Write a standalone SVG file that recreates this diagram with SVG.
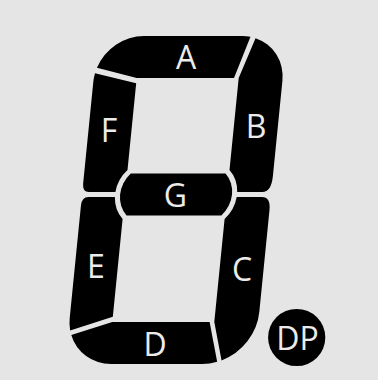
<svg xmlns="http://www.w3.org/2000/svg" width="378" height="380" viewBox="0 0 378 380">
  <style>
    .seg { fill: #000000; }
    .lbl { fill: #ebebeb; font-family: "Open Sans", "DejaVu Sans", sans-serif; font-size: 32px; text-anchor: middle; }
  </style>
  <rect x="0" y="0" width="378" height="380" fill="#e5e5e5"/>
  <g id="display">
    <g id="seg-a">
      <path class="seg" transform="matrix(1 0 -0.1 1 19.5 0)" d="M84.25,67.8 A46,46 0 0 1 128,36 L226,36 A45,45 0 0 1 234.66,36.8 L222.3,78 L125,78 Z"/>
      <text class="lbl" x="186" y="68.5">A</text>
    </g>
    <g id="seg-b">
      <path class="seg" transform="matrix(1 0 -0.1 1 19.5 0)" d="M239.84,38.2 A45,45 0 0 1 271,81 L271,176 Q271,192 262,192 L236.91,192 A35,35 0 0 0 227,170 L227,78 Z"/>
      <text class="lbl" x="256" y="137.5">B</text>
    </g>
    <g id="seg-c">
      <path class="seg" transform="matrix(1 0 -0.1 1 19.5 0)" d="M227,322 L238.1,360.4 A52,52 0 0 0 271,312 L271,210 Q271,197 262,197 L236.91,197 A35,35 0 0 1 227,219 Z"/>
      <text class="lbl" x="242" y="280.5">C</text>
    </g>
    <g id="seg-d">
      <path class="seg" transform="matrix(1 0 -0.1 1 19.5 0)" d="M125,322 L85.3,335.1 A46,46 0 0 0 128,364 L219,364 A52,52 0 0 0 233.85,361.8 L222.3,322 Z"/>
      <text class="lbl" x="155" y="356">D</text>
    </g>
    <g id="seg-e">
      <path class="seg" transform="matrix(1 0 -0.1 1 19.5 0)" d="M88.5,197 L115.09,197 A35,35 0 0 0 125,219 L125,316.8 L83.7,330.4 A46,46 0 0 1 82,318 L82,205.5 Q82,197 88.5,197 Z"/>
      <text class="lbl" x="96" y="277.5">E</text>
    </g>
    <g id="seg-f">
      <path class="seg" transform="matrix(1 0 -0.1 1 19.5 0)" d="M82.85,73.26 L125,83.13 L125,170 A35,35 0 0 0 115.09,192 L88.5,192 Q82,192 82,183.5 L82,82 A46,46 0 0 1 82.85,73.26 Z"/>
      <text class="lbl" x="109" y="141.5">F</text>
    </g>
    <g id="seg-g">
      <path class="seg" transform="matrix(1 0 -0.1 1 19.5 0)" d="M128.6,173.5 L223.4,173.5 A30,30 0 0 1 223.4,215.5 L128.6,215.5 A30,30 0 0 1 128.6,173.5 Z"/>
      <text class="lbl" x="175.5" y="206.5">G</text>
    </g>
    <g id="seg-dp">
      <circle class="seg" cx="296.7" cy="337.5" r="28.6"/>
      <text class="lbl" x="297.5" y="350">DP</text>
    </g>
  </g>
</svg>
